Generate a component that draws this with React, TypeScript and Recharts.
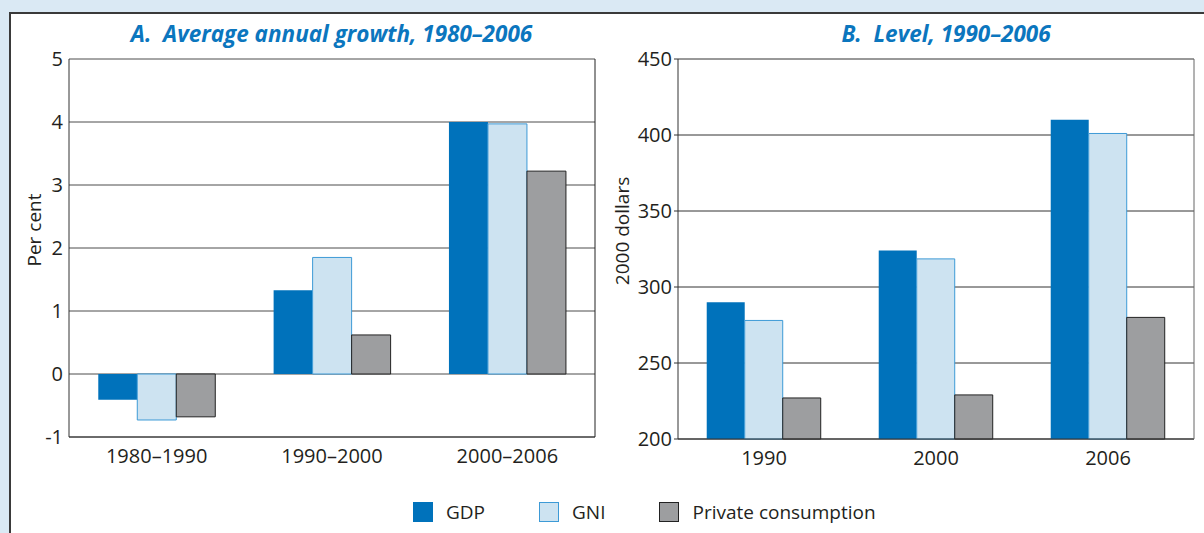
import React from "react";
import {
  BarChart,
  Bar,
  XAxis,
  YAxis,
  CartesianGrid,
  Label,
} from "recharts";

// Panel A: average annual growth (per cent)
const categoriesA = ["1980–1990", "1990–2000", "2000–2006"];
const gdpA = [-0.41, 1.33, 4.0];
const gniA = [-0.73, 1.85, 3.97];
const consA = [-0.68, 0.62, 3.22];
const ticksA = [-1, 0, 1, 2, 3, 4, 5];

// Panel B: level (2000 dollars)
const categoriesB = ["1990", "2000", "2006"];
const gdpB = [290, 324, 410];
const gniB = [278, 318.5, 401];
const consB = [227, 229, 280];
const ticksB = [200, 250, 300, 350, 400, 450];

const dataA = categoriesA.map((cat, i) => ({
  cat,
  gdp: gdpA[i],
  gni: gniA[i],
  cons: consA[i],
}));
const dataB = categoriesB.map((cat, i) => ({
  cat,
  gdp: gdpB[i],
  gni: gniB[i],
  cons: consB[i],
}));

const FONT = "'Open Sans', sans-serif";
const TEXT = "#231f20";
const GDP_COLOR = "#0072bb";
const GNI_FILL = "#cde3f1";
const GNI_STROKE = "#3d9ad6";
const CONS_FILL = "#9d9ea0";
const CONS_STROKE = "#222";

const tickStyle = { fill: TEXT, fontSize: 20, fontFamily: FONT };

// rotated y-axis title, shifted a little up like the original
const yTitle = (text: string, cx: number) => (props: any) => {
  const vb = props.viewBox;
  const x = cx;
  const y = vb.y + vb.height / 2 - 18;
  return (
    <text
      x={x}
      y={y}
      transform={`rotate(-90, ${x}, ${y})`}
      textAnchor="middle"
      dominantBaseline="central"
      fill={TEXT}
      fontSize={19}
      fontFamily={FONT}
    >
      {text}
    </text>
  );
};

const titleStyle: React.CSSProperties = {
  position: "absolute",
  top: 22,
  fontFamily: FONT,
  fontWeight: 700,
  fontStyle: "italic",
  fontSize: 22.5,
  lineHeight: "24px",
  color: "#0b76be",
  textAlign: "center",
  whiteSpace: "pre",
};

const legendItems = [
  { name: "GDP", fill: GDP_COLOR, stroke: GDP_COLOR },
  { name: "GNI", fill: GNI_FILL, stroke: GNI_STROKE },
  { name: "Private consumption", fill: CONS_FILL, stroke: CONS_STROKE },
];

const App: React.FC = () => {
  return (
    <div
      style={{
        position: "absolute",
        left: 0,
        top: 0,
        width: 1204,
        height: 533,
        background: "#dae9f4",
        overflow: "hidden",
      }}
    >
      {/* white panel with dark frame */}
      <div
        style={{
          position: "absolute",
          left: 9,
          top: 12,
          width: 1220,
          height: 600,
          background: "#fff",
          border: "2px solid #3a3a3a",
        }}
      />

      {/* titles */}
      <div style={{ ...titleStyle, left: 69, width: 525 }}>
        {"A.  Average annual growth, 1980–2006"}
      </div>
      <div style={{ ...titleStyle, left: 688, width: 516 }}>
        {"B.  Level, 1990–2006"}
      </div>

      {/* panel A */}
      <div style={{ position: "absolute", left: 0, top: 0 }}>
        <BarChart
          width={606}
          height={477}
          data={dataA}
          margin={{ top: 59, right: 10, bottom: 0, left: 0 }}
          barCategoryGap="16.7%"
          barGap={0}
        >
          <CartesianGrid vertical={false} stroke="#4d4d4d" />
          <XAxis
            dataKey="cat"
            height={40}
            tickLine={false}
            axisLine={{ stroke: "#333" }}
            tick={tickStyle}
            tickMargin={6}
          />
          <YAxis
            domain={[-1, 5]}
            ticks={ticksA}
            width={69}
            tickLine={false}
            axisLine={{ stroke: "#333" }}
            tick={tickStyle}
            tickMargin={0}
          >
            <Label content={yTitle("Per cent", 34)} />
          </YAxis>
          <YAxis
            yAxisId="r"
            orientation="right"
            width={1}
            domain={[0, 1]}
            tick={false}
            tickLine={false}
            axisLine={{ stroke: "#222" }}
          />
          <Bar dataKey="gdp" fill={GDP_COLOR} isAnimationActive={false} />
          <Bar
            dataKey="gni"
            fill={GNI_FILL}
            stroke={GNI_STROKE}
            isAnimationActive={false}
          />
          <Bar
            dataKey="cons"
            fill={CONS_FILL}
            stroke={CONS_STROKE}
            isAnimationActive={false}
          />
        </BarChart>
      </div>

      {/* panel B */}
      <div style={{ position: "absolute", left: 610, top: 0 }}>
        <BarChart
          width={594}
          height={479}
          data={dataB}
          margin={{ top: 59, right: 9, bottom: 0, left: 0 }}
          barCategoryGap="16.7%"
          barGap={0}
        >
          <CartesianGrid vertical={false} stroke="#333" />
          <XAxis
            dataKey="cat"
            height={40}
            tickLine={false}
            axisLine={{ stroke: "#333" }}
            tick={tickStyle}
            tickMargin={6}
          />
          <YAxis
            domain={[200, 450]}
            ticks={ticksB}
            width={68}
            tickSize={4}
            tickLine={{ stroke: "#333" }}
            axisLine={{ stroke: "#333" }}
            tick={tickStyle}
            tickMargin={2}
          >
            <Label content={yTitle("2000 dollars", 12)} />
          </YAxis>
          <YAxis
            yAxisId="r"
            orientation="right"
            width={1}
            domain={[0, 1]}
            tick={false}
            tickLine={false}
            axisLine={{ stroke: "#666" }}
          />
          <Bar dataKey="gdp" fill={GDP_COLOR} isAnimationActive={false} />
          <Bar
            dataKey="gni"
            fill={GNI_FILL}
            stroke={GNI_STROKE}
            isAnimationActive={false}
          />
          <Bar
            dataKey="cons"
            fill={CONS_FILL}
            stroke={CONS_STROKE}
            isAnimationActive={false}
          />
        </BarChart>
      </div>

      {/* legend */}
      <div
        style={{
          position: "absolute",
          left: 413,
          top: 502,
          display: "flex",
          alignItems: "center",
          fontFamily: FONT,
          fontSize: 19,
          color: TEXT,
          lineHeight: "20px",
        }}
      >
        {legendItems.map((item, i) => (
          <div
            key={item.name}
            style={{
              display: "flex",
              alignItems: "center",
              marginRight: i < legendItems.length - 1 ? 54 : 0,
            }}
          >
            <span
              style={{
                display: "inline-block",
                width: 18,
                height: 18,
                background: item.fill,
                border: `1px solid ${item.stroke}`,
                marginRight: 13,
              }}
            />
            <span>{item.name}</span>
          </div>
        ))}
      </div>
    </div>
  );
};

export default App;
